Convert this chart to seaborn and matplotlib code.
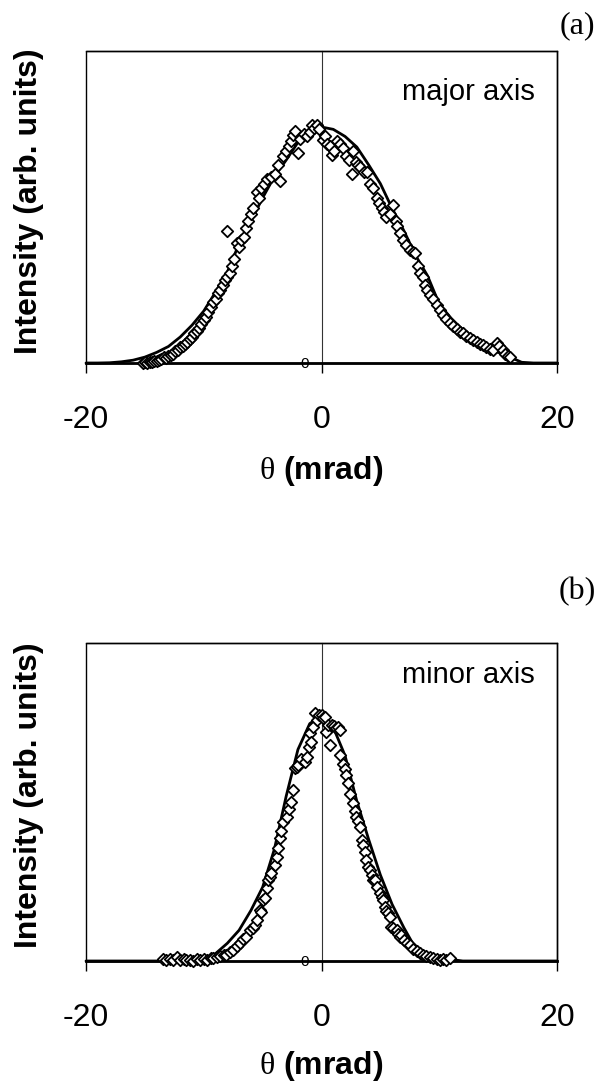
import numpy as np
import pandas as pd
import matplotlib
matplotlib.use('Agg')
import matplotlib.pyplot as plt
import seaborn as sns

##################################################################
#### (a) major axis: measured points and fit
major_x = [-15.2, -15.0, -14.8, -14.6, -14.4, -14.2, -14.0, -13.8, -13.6, -13.4,
           -13.2, -13.0, -12.8, -12.6, -12.4, -12.2, -12.0, -11.8, -11.6, -11.4,
           -11.2, -11.0, -10.8, -10.6, -10.4, -10.2, -10.0, -9.8, -9.6, -9.4,
           -9.2, -9.0, -8.8, -8.6, -8.4, -8.2, -8.05, -8.0, -7.8, -7.6,
           -7.4, -7.2, -7.0, -6.8, -6.6, -6.4, -6.2, -6.0, -5.8, -5.5,
           -5.3, -5.1, -4.9, -4.6, -4.3, -3.95, -3.7, -3.5, -3.25, -3.0,
           -2.8, -2.6, -2.4, -2.25, -2.0, -1.8, -1.5, -1.25, -1.0, -0.8,
           -0.6, -0.4, -0.2, 0.1, 0.3, 0.5, 0.7, 0.85, 1.1, 1.3,
           1.55, 1.8, 2.1, 2.35, 2.55, 2.7, 2.9, 3.1, 3.3, 3.6,
           3.85, 4.1, 4.4, 4.7, 4.9, 5.1, 5.3, 5.5, 5.8, 6.1,
           6.3, 6.45, 6.7, 6.95, 7.2, 7.5, 7.75, 7.95, 8.2, 8.4,
           8.6, 8.8, 8.95, 9.2, 9.5, 9.8, 10.05, 10.3, 10.6, 10.9,
           11.2, 11.5, 11.8, 12.0, 12.3, 12.6, 12.9, 13.2, 13.5, 13.7,
           14.0, 14.3, 14.6, 14.9, 15.1, 15.4, 15.6, 15.8, 16.0]
major_y = [0.0, 0.004, 0.002, 0.006, 0.004, 0.01, 0.008, 0.014, 0.016, 0.024,
           0.022, 0.03, 0.036, 0.04, 0.05, 0.056, 0.066, 0.072, 0.082, 0.09,
           0.1, 0.112, 0.126, 0.136, 0.15, 0.165, 0.184, 0.196, 0.215, 0.236,
           0.26, 0.272, 0.295, 0.31, 0.33, 0.35, 0.56, 0.366, 0.38, 0.41,
           0.44, 0.51, 0.49, 0.52, 0.535, 0.57, 0.6, 0.63, 0.655, 0.725,
           0.7, 0.74, 0.76, 0.78, 0.79, 0.8, 0.84, 0.77, 0.875, 0.9,
           0.92, 0.94, 0.965, 0.985, 0.89, 0.95, 0.97, 0.96, 0.98, 1.008,
           0.995, 1.01, 0.99, 0.945, 0.96, 0.93, 0.92, 0.88, 0.9, 0.94,
           0.93, 0.91, 0.875, 0.86, 0.8, 0.9, 0.85, 0.84, 0.83, 0.81,
           0.81, 0.76, 0.74, 0.7, 0.68, 0.655, 0.64, 0.62, 0.63, 0.67,
           0.6, 0.58, 0.55, 0.52, 0.5, 0.48, 0.47, 0.465, 0.41, 0.38,
           0.365, 0.33, 0.31, 0.29, 0.27, 0.245, 0.225, 0.205, 0.185, 0.17,
           0.155, 0.145, 0.13, 0.127, 0.115, 0.105, 0.097, 0.088, 0.08, 0.076,
           0.066, 0.06, 0.055, 0.083, 0.07, 0.055, 0.04, 0.03, 0.025]
major_fit_x = [-20, -19, -18, -17, -16, -15, -14, -13, -12, -11, -10, -9, -8, -7,
               -6, -5, -4, -3, -2, -1, 0, 1, 2, 3, 4, 5, 6, 7, 8, 9, 10,
               11, 12, 13, 14, 15, 16, 17, 18, 19, 20]
major_fit_y = [0.0, 0.0, 0.001, 0.005, 0.012, 0.025, 0.045, 0.07, 0.11, 0.16, 0.22,
               0.30, 0.385, 0.505, 0.60, 0.70, 0.79, 0.86, 0.935, 0.98, 1.0,
               0.99, 0.96, 0.915, 0.84, 0.76, 0.655, 0.56, 0.455, 0.37, 0.25,
               0.19, 0.14, 0.10, 0.07, 0.045, 0.025, 0.003, 0.0, 0.0, 0.0]

#### (b) minor axis: measured points and fit
minor_x = [-13.5, -13.2, -12.9, -12.6, -12.3, -12.0, -11.7, -11.5, -11.2, -10.9,
           -10.6, -10.3, -10.0, -9.7, -9.4, -9.2, -8.9, -8.6, -8.3, -8.07,
           -7.8, -7.5, -7.2, -6.94, -6.66, -6.37, -6.1, -5.8, -5.66, -5.5,
           -5.24, -5.1, -4.95, -4.8, -4.67, -4.53, -4.4, -4.25, -3.97, -3.82,
           -3.68, -3.54, -3.4, -3.27, -2.97, -2.8, -2.55, -2.4, -2.27, -2.1,
           -2.0, -1.7, -1.42, -1.27, -1.1, -1.0, -0.85, -0.7, -0.57, -0.42,
           -0.2, 0.0, 0.15, 0.28, 0.42, 0.55, 0.7, 0.85, 1.05, 1.27,
           1.4, 1.55, 1.6, 1.84, 2.0, 2.12, 2.26, 2.45, 2.68, 2.85,
           2.97, 3.1, 3.25, 3.4, 3.55, 3.68, 3.82, 3.96, 4.1, 4.25,
           4.38, 4.53, 4.7, 4.95, 5.1, 5.23, 5.38, 5.52, 5.66, 5.8,
           5.94, 6.08, 6.37, 6.5, 6.65, 6.79, 7.0, 7.25, 7.5, 7.8,
           8.1, 8.35, 8.6, 8.9, 9.2, 9.5, 9.8, 10.05, 10.3, 10.6, 10.9]
minor_y = [0.008, 0.004, 0.01, 0.006, 0.016, 0.004, 0.008, 0.004, 0.006, 0.002,
           0.008, 0.004, 0.01, 0.006, 0.012, 0.011, 0.016, 0.02, 0.026, 0.024,
           0.036, 0.045, 0.06, 0.072, 0.09, 0.099, 0.126, 0.133, 0.146, 0.167,
           0.207, 0.2, 0.248, 0.255, 0.295, 0.33, 0.34, 0.356, 0.39, 0.424,
           0.46, 0.5, 0.53, 0.566, 0.587, 0.62, 0.648, 0.695, 0.785, 0.79,
           0.797, 0.82, 0.81, 0.83, 0.87, 0.927, 0.89, 0.95, 1.007, 0.98,
           1.0, 1.0, 0.99, 0.993, 0.932, 0.96, 0.878, 0.96, 0.955, 0.947,
           0.95, 0.94, 0.837, 0.803, 0.78, 0.756, 0.722, 0.68, 0.641, 0.61,
           0.587, 0.57, 0.546, 0.492, 0.47, 0.444, 0.41, 0.383, 0.37, 0.35,
           0.33, 0.33, 0.3, 0.275, 0.26, 0.248, 0.22, 0.205, 0.194, 0.18,
           0.14, 0.133, 0.126, 0.11, 0.099, 0.106, 0.085, 0.072, 0.065, 0.05,
           0.04, 0.031, 0.025, 0.02, 0.017, 0.012, 0.008, 0.004, 0.008, 0.004, 0.011]
minor_fit_x = [-20, -19, -18, -17, -16, -15, -14, -13, -12, -11, -10, -9, -8, -7,
               -6, -5, -4, -3, -2, -1, 0, 1, 2, 3, 4, 5, 6, 7, 8, 9, 10,
               11, 12, 13, 14, 15, 16, 17, 18, 19, 20]
minor_fit_y = [0.0, 0.0, 0.0, 0.0, 0.0, 0.0, 0.0, 0.0, 0.0, 0.002, 0.008,
               0.03, 0.072, 0.125, 0.205, 0.30, 0.455, 0.67, 0.86, 0.965, 1.0,
               0.95, 0.835, 0.65, 0.495, 0.35, 0.23, 0.135, 0.05, 0.03, 0.018,
               0.006, 0.0, 0.0, 0.0, 0.0, 0.0, 0.0, 0.0, 0.0, 0.0]

xticks = [-20, 0, 20]
panel_tags = ['(a)', '(b)']
panel_names = ['major axis', 'minor axis']

##################################################################
sns.set_theme(style='white')
matplotlib.rcParams['font.family'] = ['Liberation Sans', 'DejaVu Sans']
matplotlib.rcParams['mathtext.fontset'] = 'custom'
matplotlib.rcParams['mathtext.it'] = 'Liberation Serif'
matplotlib.rcParams['mathtext.rm'] = 'Liberation Serif'
for key in ['text.color', 'axes.labelcolor', 'xtick.color', 'ytick.color']:
    matplotlib.rcParams[key] = 'black'

W, H = 603, 1082
fig = plt.figure(figsize=(W/100, H/100), dpi=100)
ax1 = fig.add_axes([86/W, 1-363/H, 471/W, 312/H])
ax2 = fig.add_axes([86/W, 1-961/H, 471/W, 318/H])

fz = 23
panels = [(ax1, major_x, major_y, major_fit_x, major_fit_y, 1.322),
          (ax2, minor_x, minor_y, minor_fit_x, minor_fit_y, 1.293)]

for i, (ax, dx, dy, fx, fy, ytop) in enumerate(panels):
    sns.lineplot(x=fx, y=fy, ax=ax, color='black', linewidth=2.0, clip_on=False, zorder=3)
    sns.scatterplot(x=dx, y=dy, ax=ax, marker='D', s=34, facecolor='white',
                    edgecolor='black', linewidth=1.3, clip_on=False, zorder=4)
    ax.set_xlim(-20, 20)
    ax.set_ylim(0, ytop)
    ax.set_xticks(xticks)
    ax.set_xticklabels([str(t) for t in xticks])
    ax.tick_params(axis='x', direction='out', length=7, width=1, pad=23,
                   labelsize=fz, bottom=True, color='black', labelcolor='black')
    # y axis sits at theta = 0, with only the "0" label
    ax.set_yticks([0])
    ax.set_yticklabels(['0'])
    ax.tick_params(axis='y', length=0, pad=9, labelsize=11, left=True, labelcolor='black')
    ax.spines['left'].set_position(('data', 0))
    ax.spines['left'].set_linewidth(0.8)
    ax.spines['left'].set_color('#333333')
    ax.spines['bottom'].set_linewidth(2.0)
    ax.spines['bottom'].set_color('black')
    for s in ['top', 'right']:
        ax.spines[s].set_linewidth(1.0)
        ax.spines[s].set_color('black')
    ax.patch.set_edgecolor('black')
    ax.patch.set_linewidth(1.0)
    ax.set_xlabel(r'$\theta$ (mrad)', fontsize=fz, fontweight='bold', color='black')
    ax.set_ylabel('Intensity (arb. units)', fontsize=fz, fontweight='bold', color='black')
    ax.yaxis.set_label_coords(-0.09, 0.52)
    ax.text(0.953, 0.87 if i == 0 else 0.9, panel_names[i], transform=ax.transAxes,
            ha='right', va='center', fontsize=21, color='black')

ax1.xaxis.set_label_coords(0.5, -0.293)
ax2.xaxis.set_label_coords(0.5, -0.276)

fig.text(577/W, 1-26/H, panel_tags[0], ha='center', va='center', fontsize=fz, family='Liberation Serif')
fig.text(577/W, 1-592/H, panel_tags[1], ha='center', va='center', fontsize=fz, family='Liberation Serif')

plt.savefig('out.png', dpi=100)
